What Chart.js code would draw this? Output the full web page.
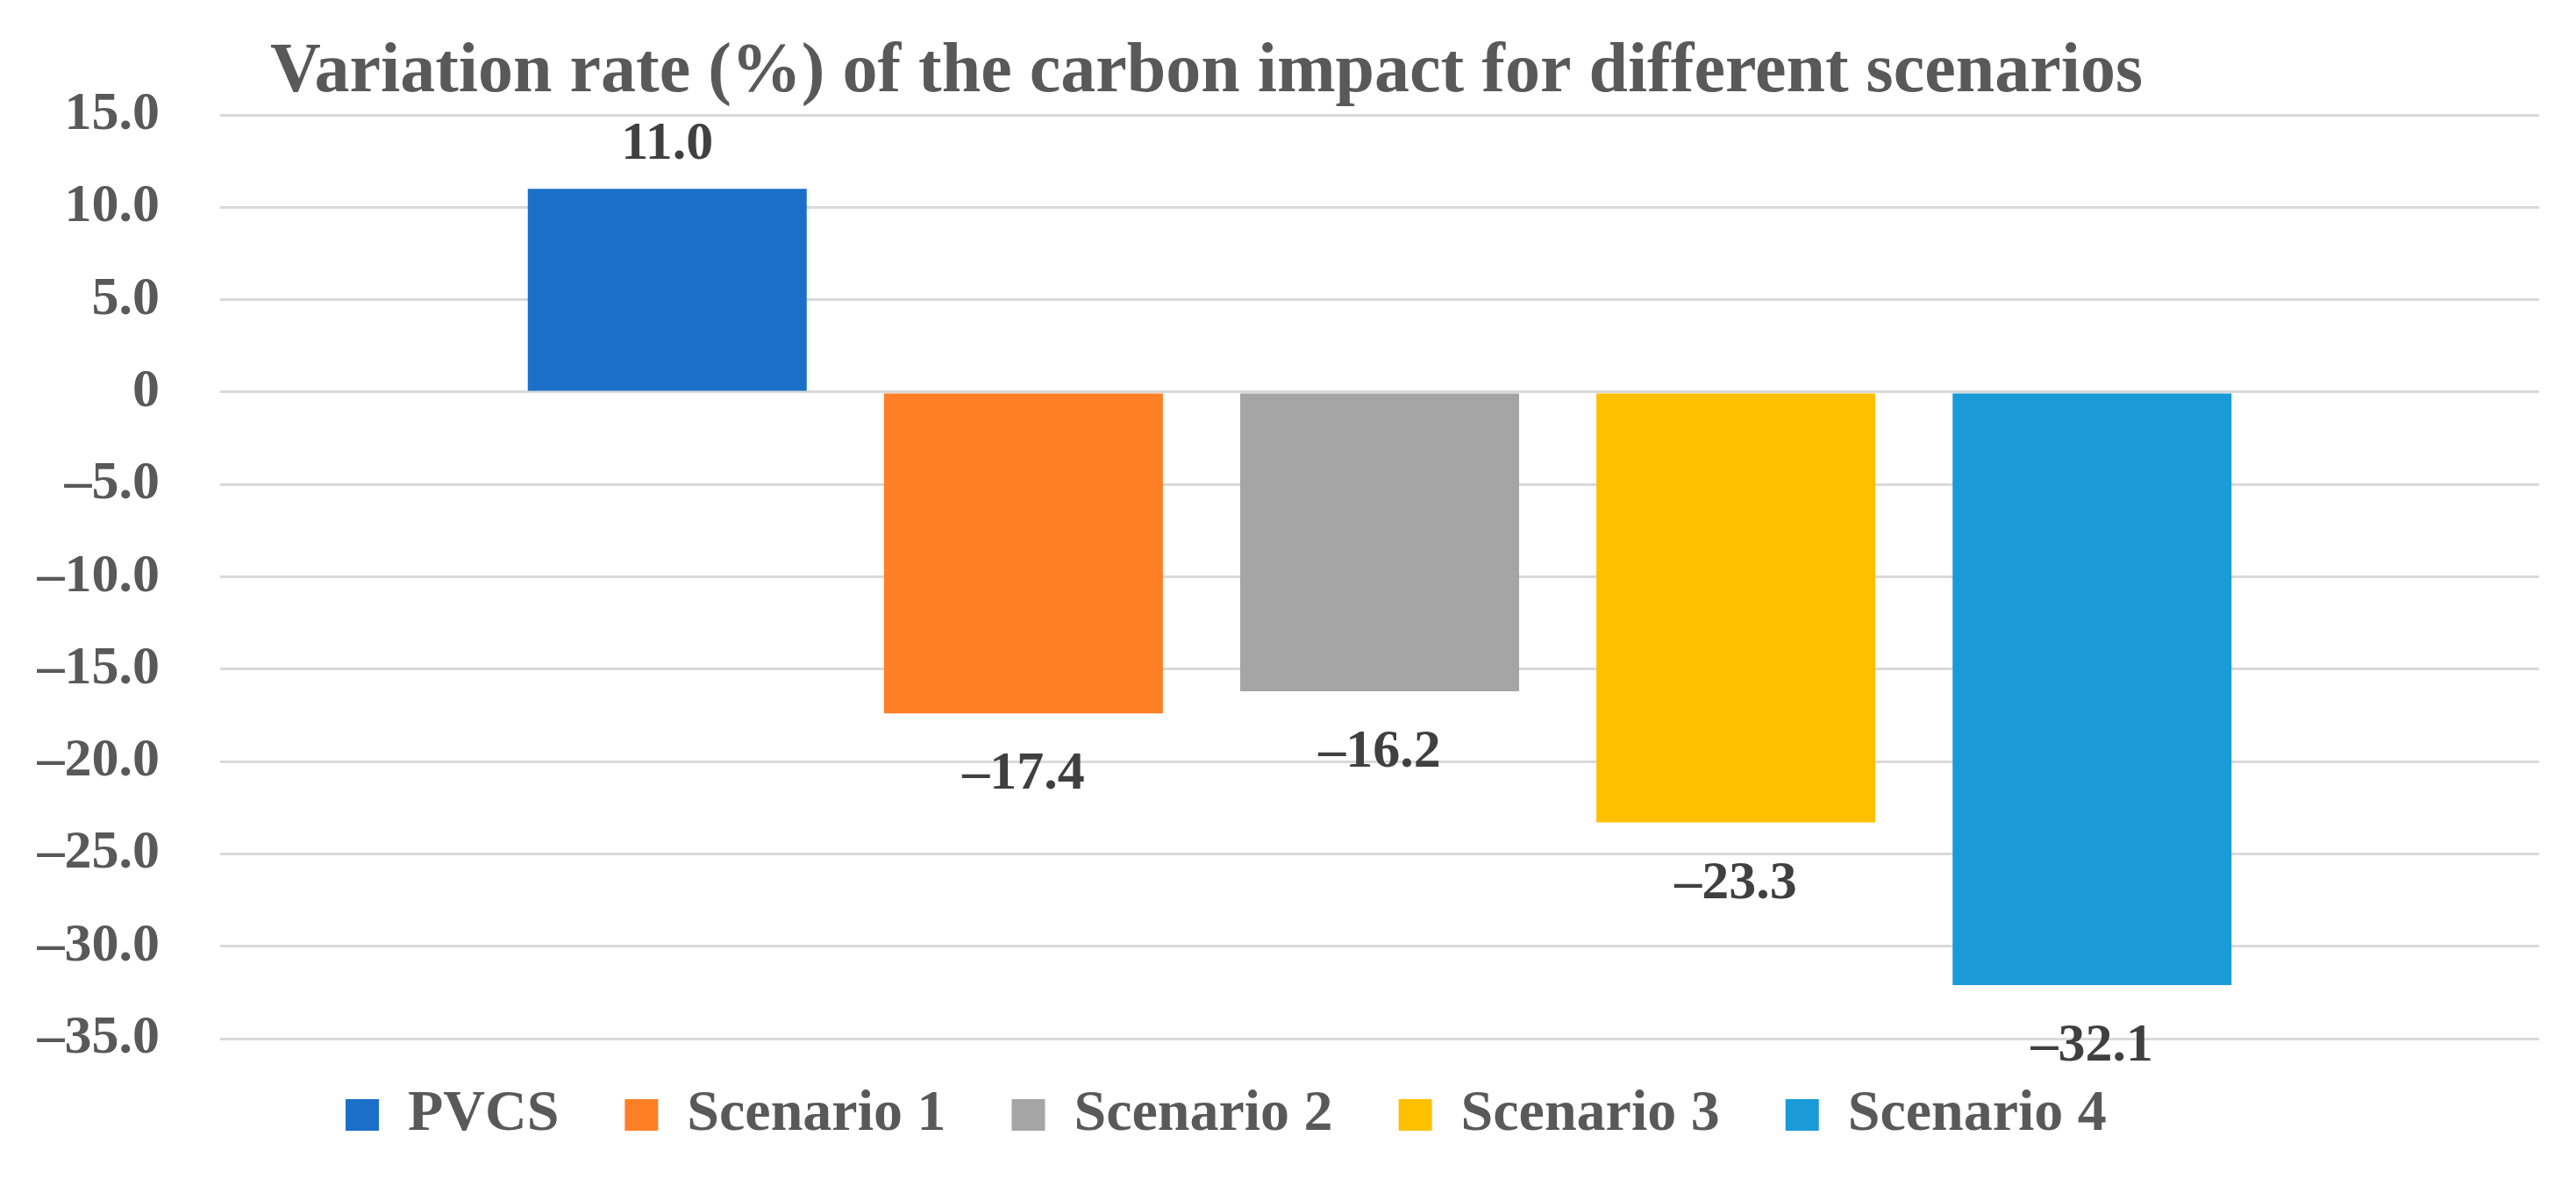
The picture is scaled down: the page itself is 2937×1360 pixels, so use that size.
<!DOCTYPE html>
<html>
<head>
<meta charset="utf-8">
<script src="https://cdn.jsdelivr.net/npm/chart.js@4.4.1/dist/chart.umd.min.js"></script>
<style>
  html, body { margin: 0; padding: 0; background: #fff; }
  canvas { display: block; }
</style>
</head>
<body>
<canvas id="chart" width="2937" height="1360"></canvas>
<script>
const titleText = "Variation rate (%) of the carbon impact for different scenarios";
const categories = [""];
const seriesNames = ["PVCS", "Scenario 1", "Scenario 2", "Scenario 3", "Scenario 4"];
const seriesValues = [11.0, -17.4, -16.2, -23.3, -32.1];
const seriesColors = ["#1b6fc9", "#ff7f27", "#a5a5a5", "#ffc000", "#1a9bd7"];
const yMin = -35;
const yMax = 15;
const yStep = 5;

const serif = "'Liberation Serif', 'Times New Roman', serif";

// 0 -> "0", others one decimal with an en dash for negatives
function fmt(v) {
  if (v === 0) return "0";
  return (v < 0 ? "\u2013" : "") + Math.abs(v).toFixed(1);
}

// value labels above / below each bar
const valueLabels = {
  id: "valueLabels",
  afterDatasetsDraw(chart) {
    const ctx = chart.ctx;
    ctx.save();
    ctx.font = "bold 62px " + serif;
    ctx.fillStyle = "#404040";
    ctx.textAlign = "center";
    ctx.textBaseline = "alphabetic";
    chart.data.datasets.forEach((ds, i) => {
      const bar = chart.getDatasetMeta(i).data[0];
      const v = ds.data[0];
      if (v >= 0) {
        ctx.fillText(fmt(v), bar.x, bar.y - 34);
      } else {
        ctx.fillText(fmt(v), bar.x, bar.y + 86);
      }
    });
    ctx.restore();
  }
};

// move title and legend to where the original had them
const placeBoxes = {
  id: "placeBoxes",
  afterLayout(chart) {
    const t = chart.titleBlock;
    t.left = 308;
    const lg = chart.legend;
    const w = lg.right - lg.left;
    lg.left = 394 - 75;
    lg.right = lg.left + w;
    lg.top -= 21;
    lg.bottom -= 21;
  }
};

const datasets = seriesNames.map((name, i) => ({
  label: name,
  data: [seriesValues[i]],
  backgroundColor: seriesColors[i],
  borderWidth: 0,
  categoryPercentage: 0.768,
  barPercentage: 0.783
}));

new Chart(document.getElementById("chart"), {
  type: "bar",
  data: {
    labels: categories,
    datasets: datasets
  },
  options: {
    responsive: false,
    animation: false,
    devicePixelRatio: 1,
    layout: {
      padding: { left: 0, right: 42, top: 0, bottom: 25 }
    },
    plugins: {
      title: {
        display: true,
        text: titleText,
        align: "start",
        color: "#595959",
        font: { family: serif, size: 80, weight: "bold", lineHeight: 1.2 },
        padding: { top: 35, bottom: 0 }
      },
      legend: {
        position: "bottom",
        align: "start",
        labels: {
          boxWidth: 38,
          boxHeight: 36,
          padding: 75,
          color: "#595959",
          font: { family: serif, size: 66, weight: "bold" }
        }
      },
      tooltip: { enabled: false }
    },
    scales: {
      x: {
        display: false
      },
      y: {
        min: yMin,
        max: yMax,
        afterFit(scale) {
          scale.width = 251;
        },
        ticks: {
          stepSize: yStep,
          padding: 69,
          color: "#595959",
          font: { family: serif, size: 62, weight: "bold" },
          callback: (v) => fmt(v)
        },
        grid: {
          color: "#d9d9d9",
          lineWidth: 3,
          drawTicks: false
        },
        border: { display: false }
      }
    }
  },
  plugins: [valueLabels, placeBoxes]
});
</script>
</body>
</html>
